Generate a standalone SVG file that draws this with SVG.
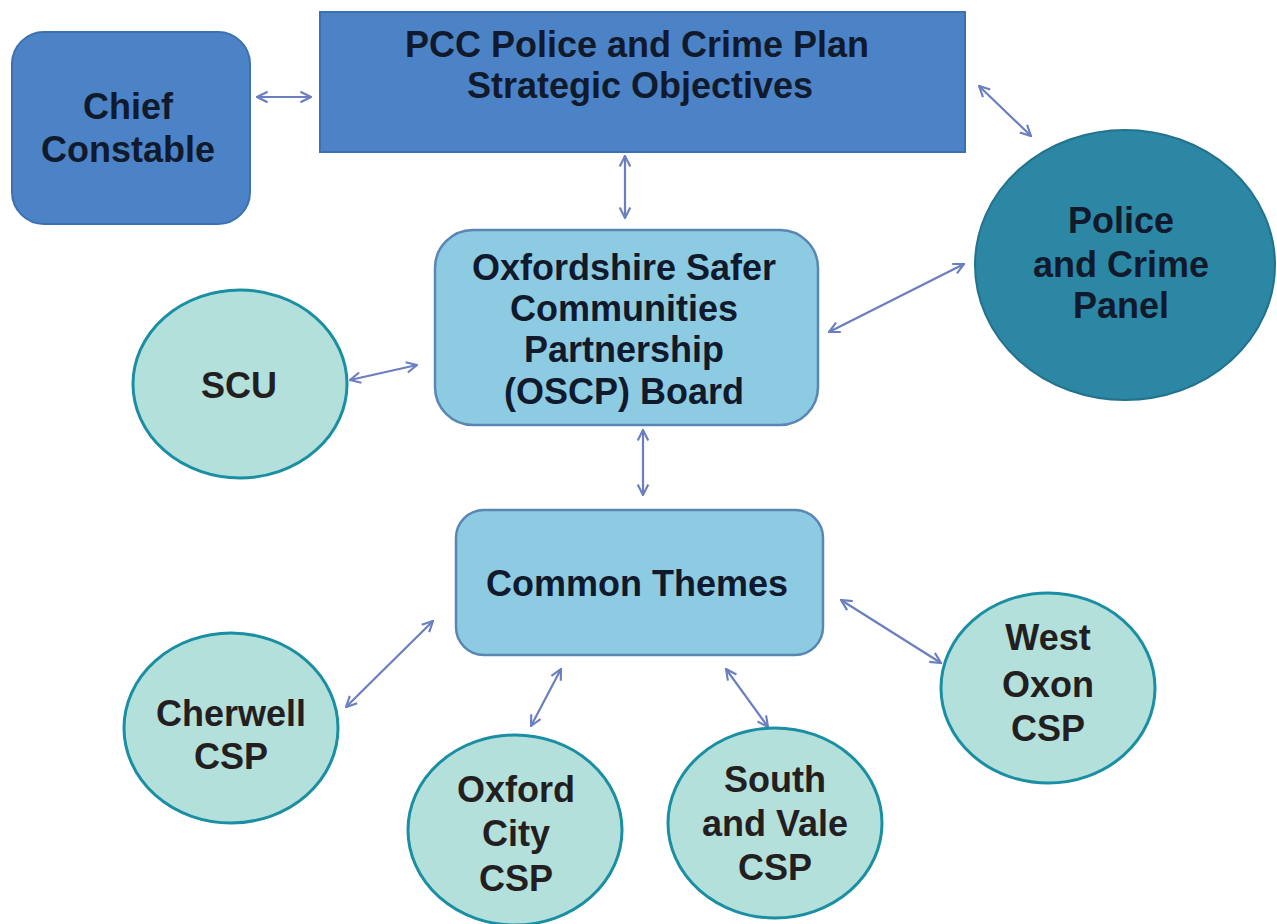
<svg xmlns="http://www.w3.org/2000/svg" width="1277" height="924" viewBox="0 0 1277 924">
  <style>
    text { font-family: "Liberation Sans", Arial, sans-serif; font-weight: bold; text-anchor: middle; }
    .dark { fill: #4b83c6; stroke: #3d70b0; stroke-width: 2; }
    .panel { fill: #2b87a3; stroke: #22728c; stroke-width: 2; }
    .mid { fill: #8dcbe2; stroke: #5a86b4; stroke-width: 2.5; }
    .csp { fill: #b4e0dc; stroke: #1a8ea2; stroke-width: 3; }
    .t1 { font-size: 36px; fill: #101a2c; }
    .t2 { font-size: 36px; fill: #231f20; }
    .link { stroke: #6a7ec0; stroke-width: 2.2; fill: none; marker-start: url(#tip); marker-end: url(#tip); }
  </style>
  <defs>
    <marker id="tip" viewBox="0 0 10 10" refX="9" refY="5" markerWidth="6" markerHeight="6" markerUnits="strokeWidth" orient="auto-start-reverse">
      <path d="M1,1 L9,5 L1,9" fill="none" stroke="#6a7ec0" stroke-width="1.6"/>
    </marker>
  </defs>
  <rect width="1277" height="924" fill="#ffffff"/>

  <g id="connectors">
    <line class="link" x1="257" y1="97" x2="311" y2="97"/>
    <line class="link" x1="625" y1="156" x2="625" y2="218"/>
    <line class="link" x1="979" y1="86" x2="1031" y2="136"/>
    <line class="link" x1="350" y1="380" x2="417" y2="365"/>
    <line class="link" x1="829" y1="332" x2="964" y2="264"/>
    <line class="link" x1="643" y1="430" x2="643" y2="495"/>
    <line class="link" x1="346" y1="707" x2="433" y2="621"/>
    <line class="link" x1="531" y1="726" x2="561" y2="669"/>
    <line class="link" x1="768" y1="727" x2="726" y2="669"/>
    <line class="link" x1="841" y1="600" x2="941" y2="663"/>
  </g>

  <g id="chief-constable">
    <rect class="dark" x="12" y="32" width="238" height="192" rx="32"/>
    <text class="t1" x="128" y="119">Chief</text>
    <text class="t1" x="128" y="162">Constable</text>
  </g>

  <g id="pcc-plan">
    <rect class="dark" x="320" y="12" width="645" height="140"/>
    <text class="t1" x="637" y="57">PCC Police and Crime Plan</text>
    <text class="t1" x="640" y="98">Strategic Objectives</text>
  </g>

  <g id="crime-panel">
    <ellipse class="panel" cx="1125" cy="265" rx="150" ry="135"/>
    <text class="t1" x="1121" y="233">Police</text>
    <text class="t1" x="1121" y="277">and Crime</text>
    <text class="t1" x="1121" y="318">Panel</text>
  </g>

  <g id="oscp-board">
    <rect class="mid" x="435" y="230" width="383" height="195" rx="38"/>
    <text class="t1" x="624" y="280">Oxfordshire Safer</text>
    <text class="t1" x="624" y="321">Communities</text>
    <text class="t1" x="624" y="362">Partnership</text>
    <text class="t1" x="624" y="404">(OSCP) Board</text>
  </g>

  <g id="common-themes">
    <rect class="mid" x="456" y="510" width="367" height="145" rx="28"/>
    <text class="t1" x="637" y="596">Common Themes</text>
  </g>

  <g id="scu">
    <ellipse class="csp" cx="240" cy="384" rx="107" ry="94"/>
    <text class="t2" x="239" y="398">SCU</text>
  </g>

  <g id="cherwell-csp">
    <ellipse class="csp" cx="231" cy="728" rx="107" ry="95"/>
    <text class="t2" x="231" y="726">Cherwell</text>
    <text class="t2" x="231" y="769">CSP</text>
  </g>

  <g id="oxford-city-csp">
    <ellipse class="csp" cx="515" cy="830" rx="107" ry="95"/>
    <text class="t2" x="516" y="802">Oxford</text>
    <text class="t2" x="516" y="846">City</text>
    <text class="t2" x="516" y="891">CSP</text>
  </g>

  <g id="south-vale-csp">
    <ellipse class="csp" cx="775" cy="823" rx="107" ry="95"/>
    <text class="t2" x="775" y="792">South</text>
    <text class="t2" x="775" y="836">and Vale</text>
    <text class="t2" x="775" y="880">CSP</text>
  </g>

  <g id="west-oxon-csp">
    <ellipse class="csp" cx="1048" cy="688" rx="107" ry="95"/>
    <text class="t2" x="1048" y="650">West</text>
    <text class="t2" x="1048" y="697">Oxon</text>
    <text class="t2" x="1048" y="741">CSP</text>
  </g>
</svg>
